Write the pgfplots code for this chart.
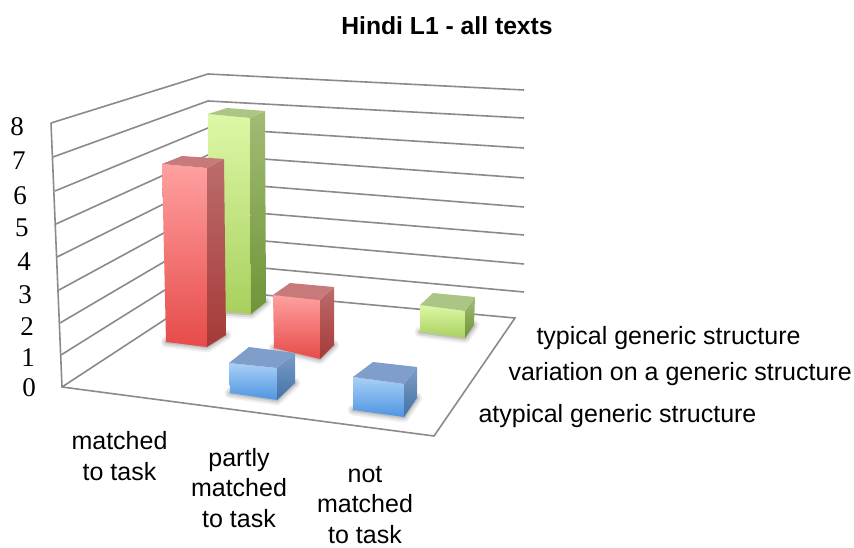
\documentclass[border=0pt]{standalone}
\usepackage{fontspec}
\setmainfont{Liberation Sans}
\newfontfamily\tickfont{Liberation Serif}
\usepackage{pgfplots}
\pgfplotsset{compat=1.18}

% faces of the 3D columns, in picture coordinates
\newcommand{\face}[3]{\addplot[draw=none, top color=#1, bottom color=#2] coordinates {#3} --cycle;}
\newcommand{\shadow}[1]{%
  \addplot[draw=black, opacity=0.06, line width=11pt, line cap=round, line join=round] coordinates {#1};
  \addplot[draw=black, opacity=0.09, line width=7pt, line cap=round, line join=round] coordinates {#1};
  \addplot[draw=black, opacity=0.12, line width=3pt, line cap=round, line join=round] coordinates {#1};
}
\definecolor{gridc}{HTML}{8A8A8A}
\definecolor{redA}{HTML}{FFA0A0}\definecolor{redB}{HTML}{E64B49}
\definecolor{redC}{HTML}{BC6C6C}\definecolor{redD}{HTML}{A53A38}\definecolor{redE}{HTML}{C87A7A}
\definecolor{grnA}{HTML}{DDF8A6}\definecolor{grnB}{HTML}{A9D05E}
\definecolor{grnC}{HTML}{A2BC74}\definecolor{grnD}{HTML}{6F9438}\definecolor{grnE}{HTML}{ABC684}
\definecolor{bluA}{HTML}{A8D0F6}\definecolor{bluB}{HTML}{4E95E2}
\definecolor{bluC}{HTML}{7C9DC8}\definecolor{bluD}{HTML}{4273A3}\definecolor{bluE}{HTML}{7F9EC9}
\tikzset{lab/.style={font=\fontsize{25}{30.5}\selectfont, align=center},
  tk/.style={font=\fontsize{27}{29}\selectfont\tickfont}}

\begin{document}
\begin{tikzpicture}
\begin{axis}[
  width=854pt, height=548pt, scale only axis,
  xmin=0, xmax=854, ymin=0, ymax=548, y dir=reverse,
  hide axis, clip=false,
]
% grid lines, levels 8 down to 1
\addplot[gridc, line width=1.6pt] coordinates {(51,123) (208,74) (524,90)};
\addplot[gridc, line width=1.6pt] coordinates {(53,157) (208,101) (524,118)};
\addplot[gridc, line width=1.6pt] coordinates {(55,191) (208,128) (524,148)};
\addplot[gridc, line width=1.6pt] coordinates {(56,224) (208,155) (524,178)};
\addplot[gridc, line width=1.6pt] coordinates {(57,257) (208,182) (524,207)};
\addplot[gridc, line width=1.6pt] coordinates {(59,290) (208,209) (524,235)};
\addplot[gridc, line width=1.6pt] coordinates {(60,323) (208,236) (524,264)};
\addplot[gridc, line width=1.6pt] coordinates {(61,355) (208,263) (524,292)};
% floor and left edge
\addplot[gridc, line width=1.6pt] coordinates {(51,123) (62,387) (434,436) (515,318) (210,290) (62,387)};

% green, back row first
\shadow{(210,311) (251,314) (266,302)}
\face{grnA}{grnB}{(208,114) (250,118) (251,314) (210,311)}
\face{grnC}{grnD}{(250,118) (265,111) (266,302) (251,314)}
\face{grnE}{grnE}{(208,114) (227,108) (265,111) (250,118)}
\shadow{(420,332) (465,338) (474,325)}
\face{grnA}{grnB}{(420,305) (465,311) (465,338) (420,332)}
\face{grnC}{grnD}{(465,311) (475,297) (474,325) (465,338)}
\face{grnE}{grnE}{(420,305) (433,293) (475,297) (465,311)}
% red
\shadow{(166,342) (207,347) (226,335)}
\face{redA}{redB}{(162,164) (207,168) (207,347) (166,342)}
\face{redC}{redD}{(207,168) (224,159) (226,335) (207,347)}
\face{redE}{redE}{(162,164) (182,156) (224,159) (207,168)}
\shadow{(274,348) (320,359) (334,345)}
\face{redA}{redB}{(273,295) (320,300) (320,359) (274,348)}
\face{redC}{redD}{(320,300) (334,287) (334,345) (320,359)}
\face{redE}{redE}{(273,295) (290,283) (334,287) (320,300)}
% blue
\shadow{(230,393) (277,400) (295,383)}
\face{bluA}{bluB}{(229,363) (277,368) (277,400) (230,393)}
\face{bluC}{bluD}{(277,368) (295,353) (295,383) (277,400)}
\face{bluE}{bluE}{(229,363) (249,347) (295,353) (277,368)}
\shadow{(353,410) (404,417) (417,398)}
\face{bluA}{bluB}{(353,377) (404,384) (404,417) (353,410)}
\face{bluC}{bluD}{(404,384) (417,367) (417,398) (404,417)}
\face{bluE}{bluE}{(353,377) (373,362) (417,367) (404,384)}

% title and labels
\node[font=\fontsize{24.7}{28}\selectfont\bfseries] at (axis cs:447,26) {Hindi L1 - all texts};
\node[tk] at (axis cs:17,127) {8};
\node[tk] at (axis cs:19,161) {7};
\node[tk] at (axis cs:20,196) {6};
\node[tk] at (axis cs:22,228) {5};
\node[tk] at (axis cs:24,262) {4};
\node[tk] at (axis cs:25,295) {3};
\node[tk] at (axis cs:27,327) {2};
\node[tk] at (axis cs:28,358) {1};
\node[tk] at (axis cs:29,388) {0};
\node[lab] at (axis cs:119.5,456) {matched\\to task};
\node[lab] at (axis cs:239,488) {partly\\matched\\to task};
\node[lab] at (axis cs:365,505) {not\\matched\\to task};
\node[lab, anchor=west] at (axis cs:533,338) {typical generic structure};
\node[lab, anchor=west] at (axis cs:505,374) {variation on a generic structure};
\node[lab, anchor=west] at (axis cs:475,416) {atypical generic structure};
\end{axis}
\pgfresetboundingbox
\useasboundingbox (0,0) rectangle (854pt,548pt);
\end{tikzpicture}
\end{document}
